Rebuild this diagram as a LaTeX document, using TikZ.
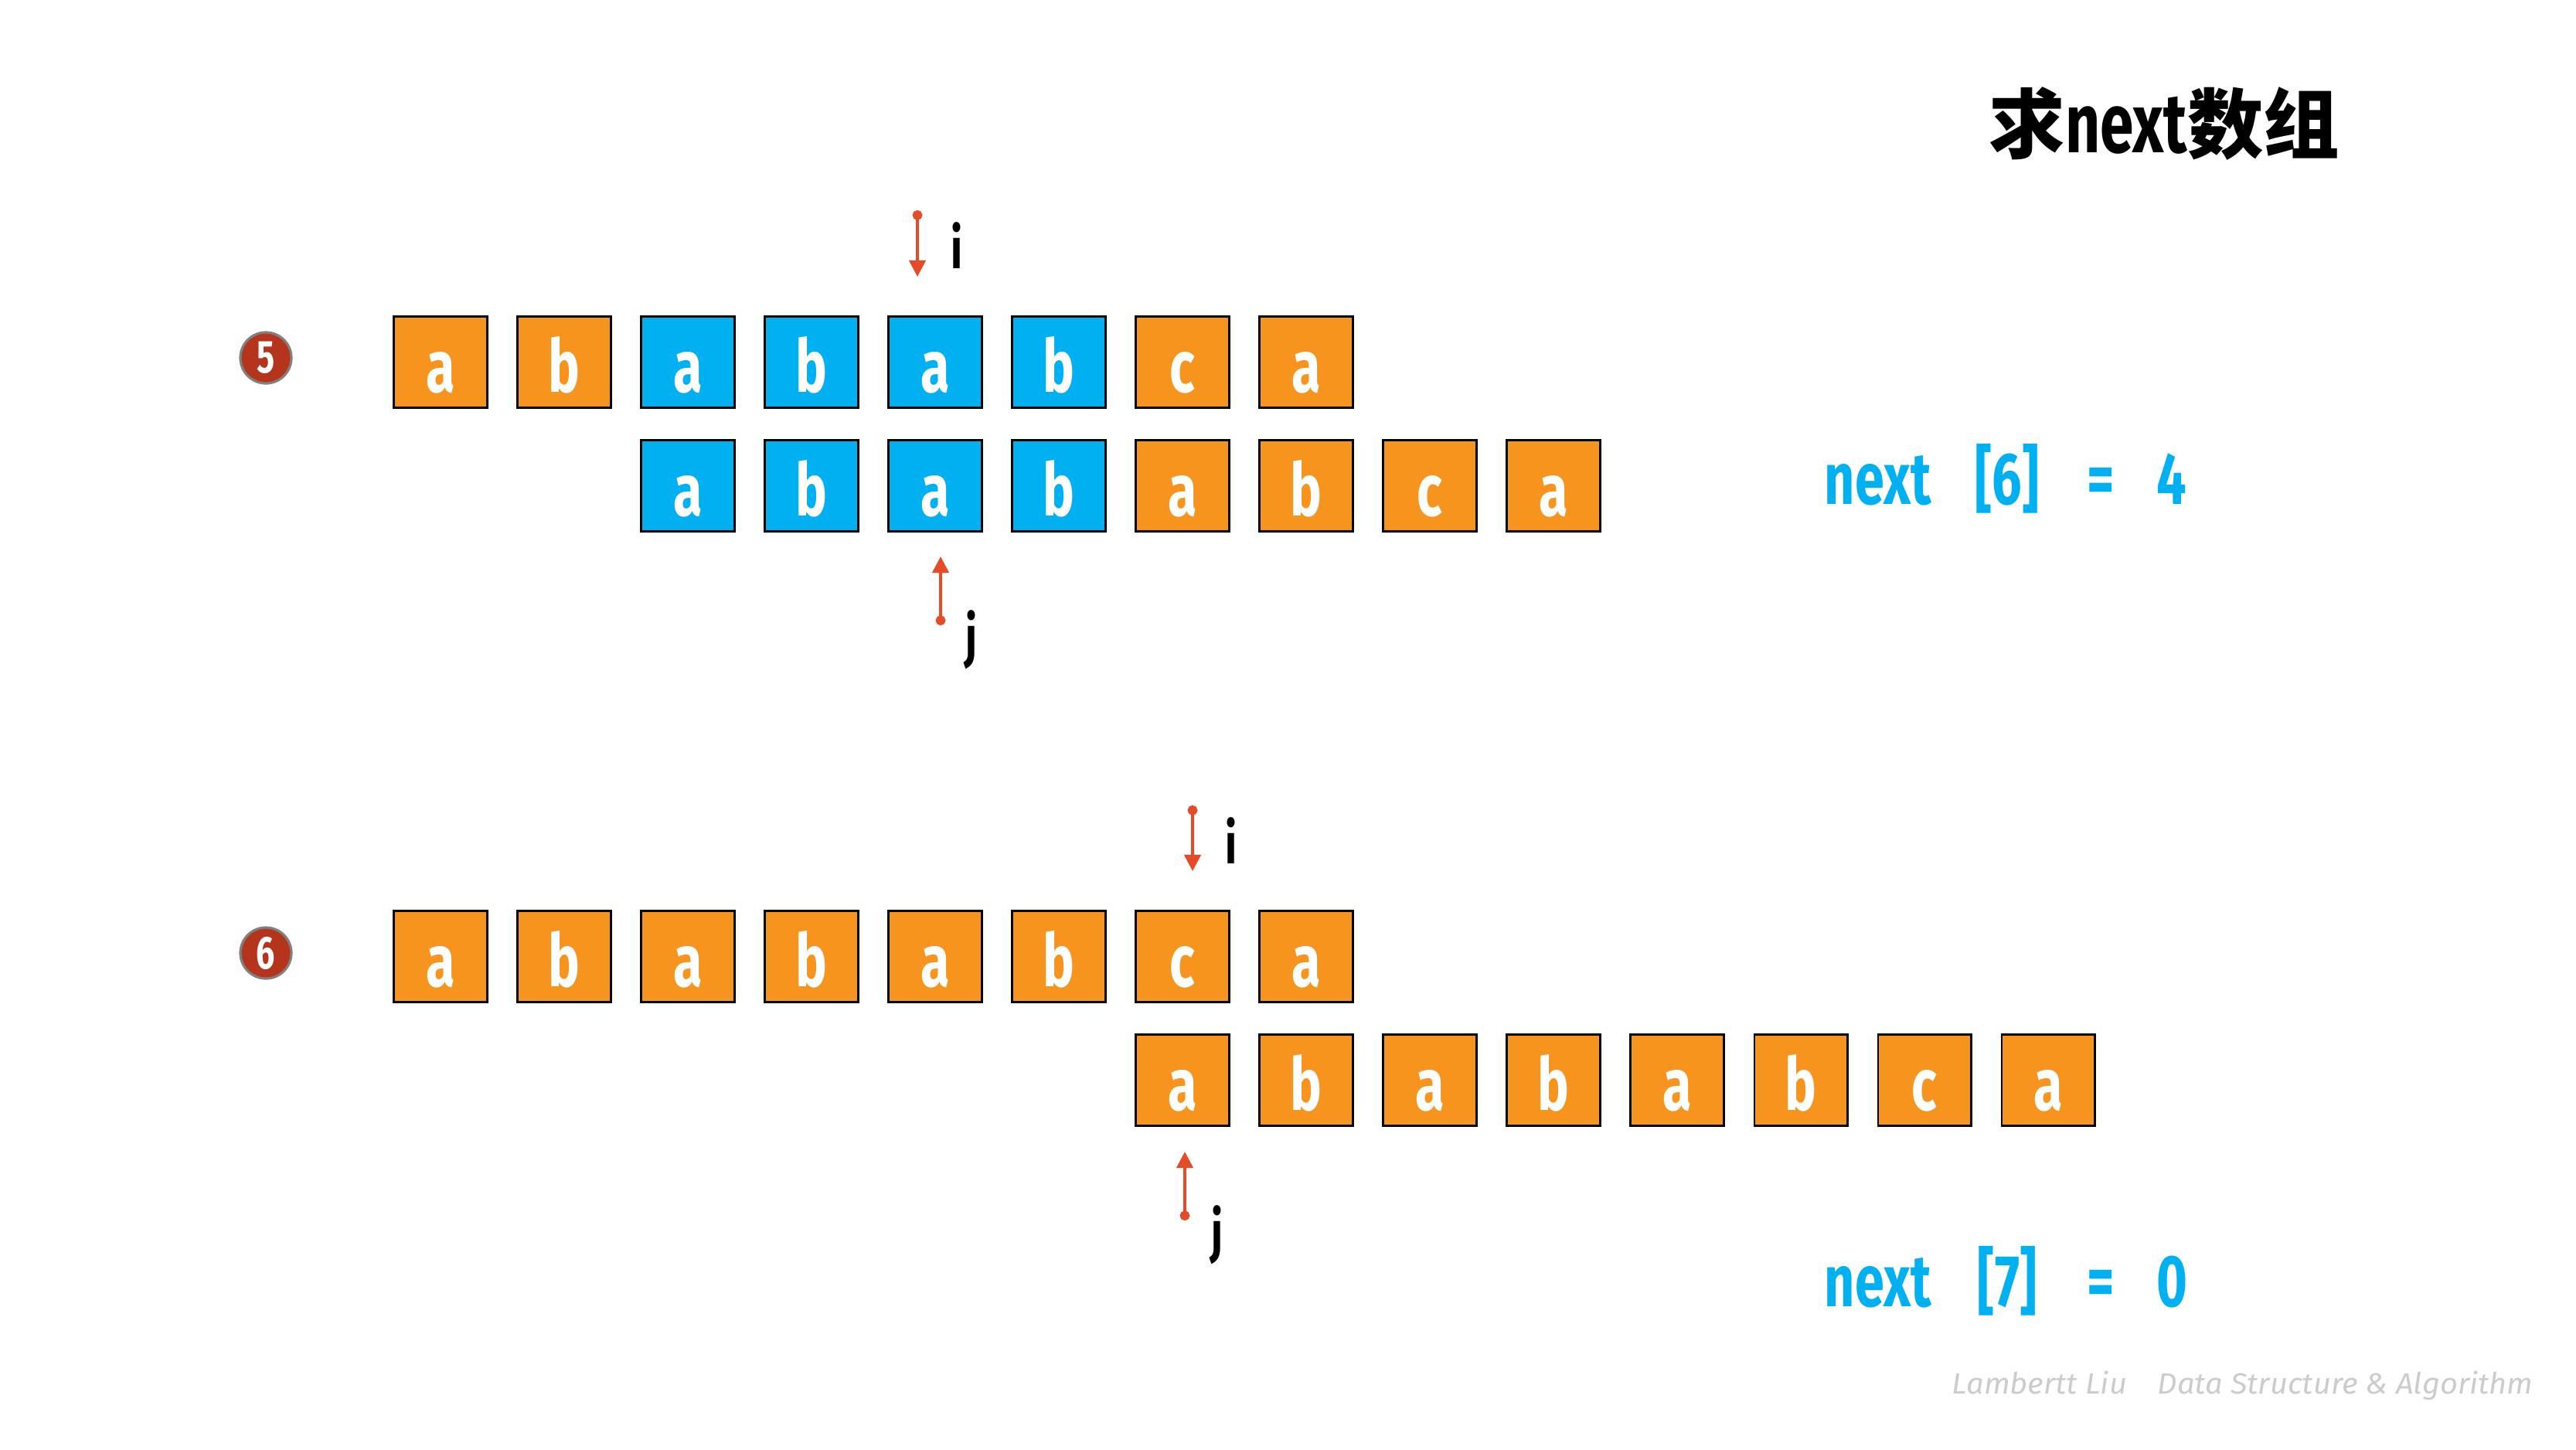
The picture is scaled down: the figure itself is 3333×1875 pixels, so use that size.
\documentclass[tikz,border=0pt]{standalone}
\usepackage{fontspec}
\usetikzlibrary{arrows.meta}
\newfontfamily\cond[FakeStretch=0.72]{Fira Sans}
\newfontfamily\cjk{Noto Sans CJK SC}
\newfontfamily\wmfont[FakeStretch=1.05]{Fira Sans}
\definecolor{ora}{RGB}{247,148,30}
\definecolor{sky}{RGB}{0,176,240}
\definecolor{ptrred}{RGB}{228,75,38}
\definecolor{badgered}{RGB}{181,52,28}
\begin{document}
\begin{tikzpicture}[x=0.01cm,y=-0.01cm,
  cell/.style={draw=black,line width=0.85pt,minimum width=1.2cm,minimum height=1.17cm,
    inner sep=0pt,text height=0.77cm,text depth=0pt,text=white,
    font=\cond\bfseries\fontsize{27}{30}\selectfont},
  oc/.style={cell,fill=ora},
  bc/.style={cell,fill=sky},
  ptr/.style={draw=ptrred,line width=1.1pt,{Circle[length=3.6pt]}-{Triangle[length=6pt,width=6pt]}},
  ptrlabel/.style={anchor=base,inner sep=0pt,font=\cond\bfseries\fontsize{21}{24}\selectfont},
  badge/.style={circle,fill=badgered,draw=black!50,line width=0.9pt,minimum size=0.66cm,inner sep=0pt,
    text=white,font=\cond\bfseries\fontsize{17}{18}\selectfont},
  nx/.style={inner sep=0pt,text=sky,font=\cond\bfseries\fontsize{27}{30}\selectfont},
  wm/.style={anchor=base west,inner sep=0pt,text=black!20,font=\wmfont\itshape\fontsize{10.8}{12}\selectfont}
]
\useasboundingbox (0,0) rectangle (3333,1875);

% title
\node[anchor=base west,inner sep=0pt] (title) at (2573,197)
  {{\cjk\bfseries\fontsize{28}{30}\selectfont 求}{\cond\bfseries\fontsize{31}{32}\selectfont next}{\cjk\bfseries\fontsize{28}{30}\selectfont 数组}};

% step numbers
\node[badge] (n5) at (344,463) {5};
\node[badge] (n6) at (344,1233) {6};

% section 1
\foreach \k/\l/\c in {1/a/oc,2/b/oc,3/a/bc,4/b/bc,5/a/bc,6/b/bc,7/c/oc,8/a/oc}
  \node[\c] (t\k) at ({570+160*(\k-1)},468.5) {\l};
\foreach \k/\l/\c in {1/a/bc,2/b/bc,3/a/bc,4/b/bc,5/a/oc,6/b/oc,7/c/oc,8/a/oc}
  \node[\c] (u\k) at ({570+160*(\k+1)},628.5) {\l};

% section 2
\foreach \k/\l in {1/a,2/b,3/a,4/b,5/a,6/b,7/c,8/a}
  \node[oc] (v\k) at ({570+160*(\k-1)},1237.5) {\l};
\foreach \k/\l in {1/a,2/b,3/a,4/b,5/a,6/b,7/c,8/a}
  \node[oc] (w\k) at ({570+160*(\k+5)},1397.5) {\l};

% pointers
\coordinate (ia1) at (1187,272);
\coordinate (ib1) at (1187,358);
\draw[ptr] (ia1) -- (ib1);
\node[ptrlabel] (il1) at (1238,347) {i};
\coordinate (ja1) at (1217,809);
\coordinate (jb1) at (1217,720);
\draw[ptr] (ja1) -- (jb1);
\node[ptrlabel] (jl1) at (1257,849) {j};

\coordinate (ia2) at (1543,1042);
\coordinate (ib2) at (1543,1127);
\draw[ptr] (ia2) -- (ib2);
\node[ptrlabel] (il2) at (1593,1117) {i};
\coordinate (ja2) at (1533,1579);
\coordinate (jb2) at (1533,1490);
\draw[ptr] (ja2) -- (jb2);
\node[ptrlabel] (jl2) at (1575,1619) {j};

% results
\node[nx,anchor=base west] (nxa) at (2360,652) {next};
\node[nx,anchor=base] (idxa) at (2597,652) {[6]};
\node[nx,anchor=base] (eqa) at (2718,652) {=};
\node[nx,anchor=base] (vala) at (2810,652) {4};

\node[nx,anchor=base west] (nxb) at (2360,1690) {next};
\node[nx,anchor=base] (idxb) at (2597,1690) {[7]};
\node[nx,anchor=base] (eqb) at (2718,1690) {=};
\node[nx,anchor=base] (valb) at (2810,1690) {0};

% watermark
\node[wm] (wma) at (2525,1803) {Lambertt Liu};
\node[wm] (wmb) at (2791,1803) {Data Structure \& Algorithm};
\end{tikzpicture}
\end{document}
